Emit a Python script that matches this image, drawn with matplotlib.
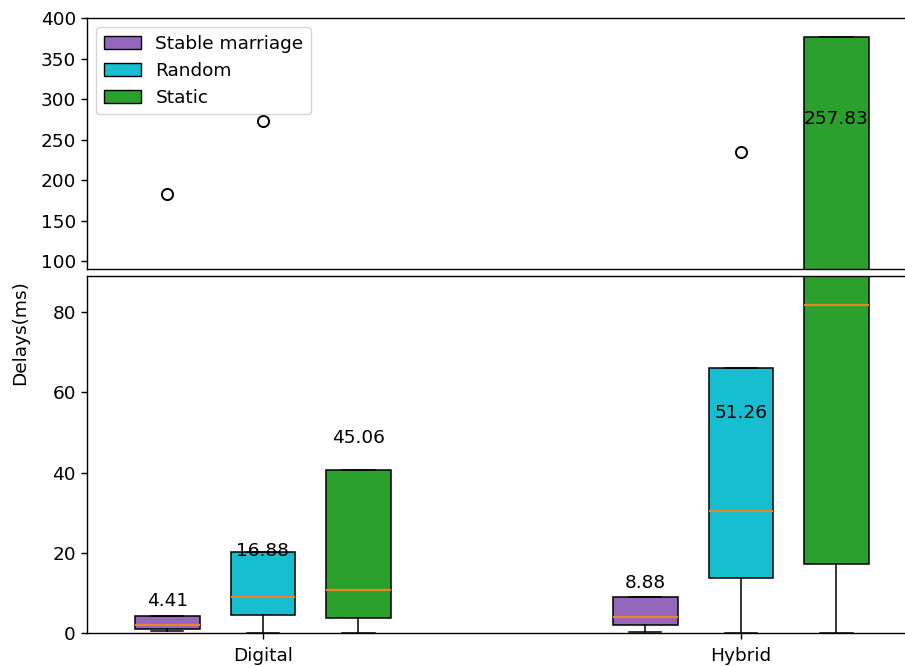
import matplotlib
matplotlib.use("Agg")
import matplotlib.pyplot as plt
from matplotlib.patches import Patch

# Data (box stats per method, per category)
categories = ["Digital", "Hybrid"]
methods = ["Stable marriage", "Random", "Static"]
colors = ["#9467bd", "#17becf", "#2ca02c"]

# rows: methods, cols: categories
whislo = [[0.5, 0.3], [0.0, 0.0], [0.0, 0.0]]
q1 = [[1.0, 2.0], [4.4, 13.8], [3.7, 17.2]]
med = [[2.0, 4.0], [9.1, 30.3], [10.7, 81.8]]
q3 = [[4.2, 9.0], [20.2, 66.1], [40.6, 376.0]]
whishi = [[4.2, 9.0], [20.2, 66.1], [40.6, 376.0]]
fliers = [[[183.5], []], [[272.5], [234.5]], [[], []]]
means = [[4.41, 8.88], [16.88, 51.26], [45.06, 257.83]]

offsets = [-0.2, 0.0, 0.2]
box_width = 0.135
fs = 13.3

fig = plt.figure(figsize=(9.05, 6.66), dpi=100)
ax_top = fig.add_axes([0.0961, 0.5956, 0.93, 0.3774])
ax_bot = fig.add_axes([0.0961, 0.0495, 0.93, 0.5361])

for ax in (ax_top, ax_bot):
    for m in range(len(methods)):
        stats = []
        for c in range(len(categories)):
            stats.append(dict(whislo=whislo[m][c], q1=q1[m][c], med=med[m][c],
                              q3=q3[m][c], whishi=whishi[m][c], fliers=fliers[m][c]))
        pos = [c + offsets[m] for c in range(len(categories))]
        ax.bxp(stats, positions=pos, widths=box_width, patch_artist=True,
               manage_ticks=False,
               boxprops=dict(facecolor=colors[m], edgecolor="black", linewidth=1.1),
               medianprops=dict(color="#e8842a", linewidth=1.6),
               whiskerprops=dict(color="black", linewidth=1.1),
               capprops=dict(color="black", linewidth=1.1),
               flierprops=dict(marker="o", markerfacecolor="none", markeredgecolor="black",
                               markersize=8, markeredgewidth=1.4))
    for sp in ax.spines.values():
        sp.set_linewidth(1.0)
    # symmetric limits; the right edge falls outside the figure like the reference crop
    ax.set_xlim(-0.368, -0.368 + 0.93 * 9.05 * 100 / 478)
    ax.tick_params(labelsize=fs, length=4.5, width=1.0)

ax_top.set_ylim(90, 400)
ax_bot.set_ylim(0, 89)
ax_top.set_yticks([100, 150, 200, 250, 300, 350, 400])
ax_bot.set_yticks([0, 20, 40, 60, 80])
ax_top.tick_params(bottom=False, labelbottom=False)
ax_bot.set_xticks(range(len(categories)))
ax_bot.set_xticklabels(categories)
ax_bot.tick_params(axis="x", pad=5.5)

# mean labels
for m in range(len(methods)):
    for c in range(len(categories)):
        v = means[m][c]
        ax = ax_bot if v < 89 else ax_top
        ax.annotate(f"{v:.2f}", xy=(c + offsets[m], v), xytext=(0, 4),
                    textcoords="offset points", ha="center", va="bottom",
                    fontsize=fs)

handles = [Patch(facecolor=colors[i], edgecolor="black", label=methods[i]) for i in range(len(methods))]
ax_top.legend(handles=handles, loc="upper left", fontsize=fs)

fig.text(0.022, 0.5, "Delays(ms)", rotation=90, va="center", ha="center", fontsize=fs)

fig.savefig("out.png", dpi=100)
